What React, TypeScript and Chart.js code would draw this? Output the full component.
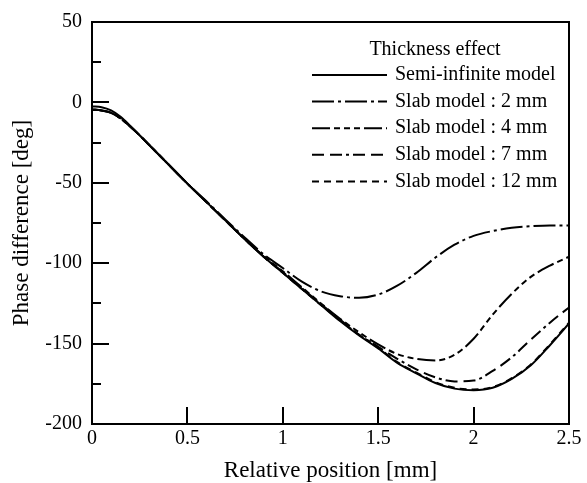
import React, { useEffect, useRef } from 'react';
import { Chart, registerables } from 'chart.js';

Chart.register(...registerables);

// Relative position [mm]
const positions = [0, 0.05, 0.1, 0.15, 0.2, 0.25, 0.3, 0.4, 0.5, 0.6, 0.7, 0.8, 0.9, 1.0, 1.1, 1.2, 1.3, 1.4, 1.5, 1.6, 1.7, 1.8, 1.9, 2.0, 2.1, 2.2, 2.3, 2.4, 2.5];

// Phase difference [deg]
const semiInfinite = [-2.5, -3, -5, -9, -14.5, -20.5, -26.5, -38.5, -50.5, -62, -73.5, -85, -96, -106, -116, -126, -136, -145, -153, -162, -168.5, -174.5, -178, -179, -177.5, -172, -163.5, -151, -137.5];
const slab2mm = [-4.5, -5, -6.5, -10, -15, -20.5, -26.5, -38.5, -50.5, -61.5, -73, -84, -94.5, -103, -111.5, -117.5, -120.5, -121.5, -119.5, -114, -106, -96.5, -88.5, -83, -80, -78, -77, -76.5, -76.5];
const slab4mm = [-4.5, -5, -6.5, -10, -15, -20.5, -26.5, -38.5, -50.5, -62, -73.5, -85, -95.5, -105, -115, -125, -134.5, -143, -150.5, -156.5, -159.5, -160.5, -157, -147, -132, -119, -108.5, -101.5, -96];
const slab7mm = [-4.5, -5, -6.5, -10, -15, -20.5, -26.5, -38.5, -50.5, -62, -73.5, -85, -96, -105.5, -115.5, -125.5, -135, -144.5, -152, -159.5, -166, -171, -173.5, -173, -167, -158.5, -147.5, -137, -127.5];
const slab12mm = [-4.5, -5, -6.5, -10, -15, -20.5, -26.5, -38.5, -50.5, -62, -73.5, -85, -96, -106, -116, -126, -135.5, -144.5, -152.5, -161.5, -168, -174, -177.5, -178.5, -177, -171.5, -163, -150.5, -137];

const seriesLabels = ['Semi-infinite model', 'Slab model : 2 mm', 'Slab model : 4 mm', 'Slab model : 7 mm', 'Slab model : 12 mm'];
const legendTitle = 'Thickness effect';
const xAxisTitle = 'Relative position [mm]';
const yAxisTitle = 'Phase difference [deg]';

const xTickValues = [0, 0.5, 1, 1.5, 2, 2.5];
const yTickValues = [50, 0, -50, -100, -150, -200];
const yMinorTickValues = [25, -25, -75, -125, -175];

const FONT = '"Liberation Serif", "Times New Roman", Times, serif';

export default function App() {
  const ref = useRef<HTMLCanvasElement>(null);

  useEffect(() => {
    const canvas = ref.current;
    if (!canvas) return;
    const series = [semiInfinite, slab2mm, slab4mm, slab7mm, slab12mm];
    const dashes: number[][] = [[], [22, 4, 3, 4], [18, 4, 6, 4, 6, 4, 6, 4], [12, 6, 12, 4, 3, 4], [7, 5]];

    const framePlugin = {
      id: 'frameAndLegend',
      afterDatasetsDraw(chart: any) {
        const { ctx, chartArea: a, scales } = chart;
        ctx.save();
        ctx.strokeStyle = '#000';
        ctx.lineWidth = 2;
        ctx.setLineDash([]);
        ctx.strokeRect(a.left, a.top, a.right - a.left, a.bottom - a.top);
        ctx.beginPath();
        for (const v of xTickValues) {
          const px = Math.round(scales.x.getPixelForValue(v));
          ctx.moveTo(px, a.bottom);
          ctx.lineTo(px, a.bottom - 17);
        }
        for (const v of yTickValues) {
          const py = Math.round(scales.y.getPixelForValue(v));
          ctx.moveTo(a.left, py);
          ctx.lineTo(a.left + 17, py);
        }
        for (const v of yMinorTickValues) {
          const py = Math.round(scales.y.getPixelForValue(v));
          ctx.moveTo(a.left, py);
          ctx.lineTo(a.left + 9, py);
        }
        ctx.stroke();

        // legend
        ctx.fillStyle = '#000';
        ctx.font = `20px ${FONT}`;
        ctx.textBaseline = 'middle';
        ctx.textAlign = 'center';
        ctx.fillText(legendTitle, a.right - 134, a.top + 28);
        ctx.textAlign = 'left';
        chart.data.datasets.forEach((ds: any, i: number) => {
          const y = a.top + 53 + i * 26.6;
          ctx.beginPath();
          ctx.setLineDash(ds.borderDash || []);
          ctx.lineWidth = 2;
          ctx.moveTo(a.right - 257, y);
          ctx.lineTo(a.right - 182, y);
          ctx.stroke();
          ctx.setLineDash([]);
          ctx.fillText(ds.label, a.right - 174, y);
        });
        ctx.restore();
      },
    };

    const chart = new Chart(canvas, {
      type: 'line',
      data: {
        datasets: series.map((vals, i) => ({
          label: seriesLabels[i],
          data: positions.map((x, j) => ({ x, y: vals[j] })),
          borderColor: '#000',
          backgroundColor: '#000',
          borderWidth: 2,
          borderDash: dashes[i],
          pointRadius: 0,
          fill: false,
          cubicInterpolationMode: 'monotone' as const,
        })),
      },
      options: {
        responsive: false,
        animation: false,
        layout: { padding: { top: 19, right: 18, left: 0, bottom: 0 } },
        plugins: {
          legend: { display: false },
          tooltip: { enabled: false },
        },
        scales: {
          x: {
            type: 'linear',
            min: 0,
            max: 2.5,
            afterBuildTicks: (s: any) => {
              s.ticks = xTickValues.map((v) => ({ value: v }));
            },
            afterFit: (s: any) => {
              s.height = 59;
            },
            ticks: {
              color: '#000',
              font: { family: FONT, size: 20 },
              padding: 3,
              maxRotation: 0,
              autoSkip: false,
              callback: (v: any) => String(v),
            },
            grid: { display: false, drawTicks: false },
            border: { display: false },
            title: {
              display: true,
              text: xAxisTitle,
              color: '#000',
              font: { family: FONT, size: 23 },
              padding: { top: 0, bottom: -2 },
            },
          },
          y: {
            type: 'linear',
            min: -200,
            max: 50,
            afterBuildTicks: (s: any) => {
              s.ticks = yTickValues.map((v) => ({ value: v }));
            },
            afterFit: (s: any) => {
              s.width = 92;
            },
            ticks: {
              color: '#000',
              font: { family: FONT, size: 20 },
              padding: 10,
              autoSkip: false,
              callback: (v: any) => String(v),
            },
            grid: { display: false, drawTicks: false },
            border: { display: false },
            title: {
              display: true,
              text: yAxisTitle,
              color: '#000',
              font: { family: FONT, size: 23 },
              padding: { top: 8, bottom: 0 },
            },
          },
        },
      },
      plugins: [framePlugin],
    });

    return () => chart.destroy();
  }, []);

  return (
    <div style={{ position: 'fixed', left: 0, top: 0, width: 587, height: 483, background: '#fff' }}>
      <canvas ref={ref} width={587} height={483} style={{ display: 'block', width: 587, height: 483 }} />
    </div>
  );
}
